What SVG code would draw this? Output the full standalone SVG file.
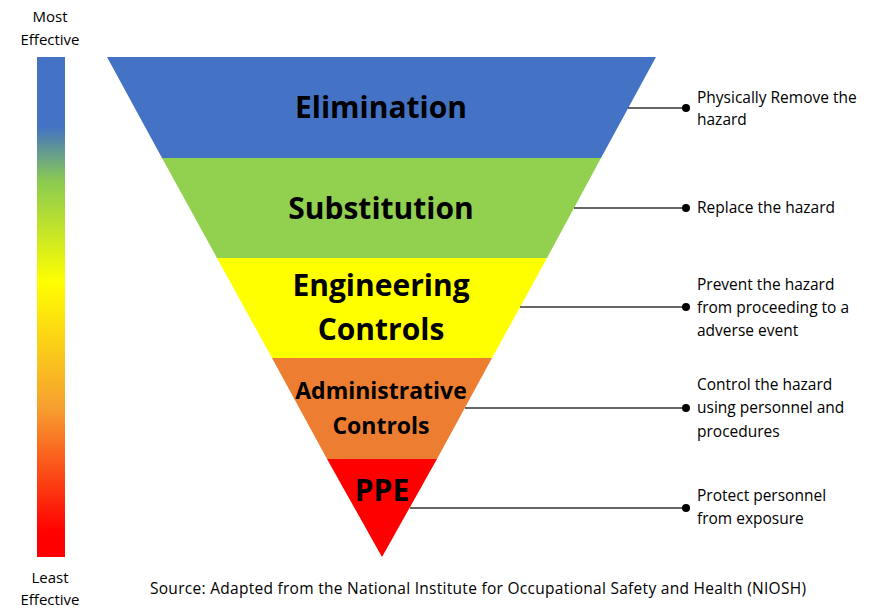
<svg xmlns="http://www.w3.org/2000/svg" width="882" height="608" viewBox="0 0 882 608">
<defs>
<linearGradient id="eff" x1="0" y1="0" x2="0" y2="1">
<stop offset="0" stop-color="#4472C4"/>
<stop offset="0.14" stop-color="#4472C4"/>
<stop offset="0.25" stop-color="#8CCB50"/>
<stop offset="0.45" stop-color="#FFFF00"/>
<stop offset="0.7" stop-color="#F7A030"/>
<stop offset="0.95" stop-color="#FF0000"/>
<stop offset="1" stop-color="#FF0000"/>
</linearGradient>
</defs>
<style>
.lvl{font-family:"Open Sans","Liberation Sans",sans-serif;font-weight:bold;fill:#000;text-anchor:middle}
.note{font-family:"Open Sans","Liberation Sans",sans-serif;font-size:15.5px;fill:#000}
.scale{font-family:"Open Sans","Liberation Sans",sans-serif;font-size:15px;fill:#000;text-anchor:middle}
.conn{stroke:#333;stroke-width:1.5;fill:none}
.dot{fill:#000}
</style>
<rect x="37" y="57" width="28" height="500" fill="url(#eff)"/>
<text class="scale" x="50" y="22">Most</text>
<text class="scale" x="50" y="45">Effective</text>
<text class="scale" x="50" y="583">Least</text>
<text class="scale" x="50" y="605">Effective</text>
<g id="elimination">
<polygon points="107,57 656,57 601,158 162,158" fill="#4472C4"/>
<text class="lvl" x="381" y="118" font-size="30">Elimination</text>
</g>
<g id="substitution">
<polygon points="162,158 601,158 547,258 217,258" fill="#92D050"/>
<text class="lvl" x="381" y="219" font-size="30">Substitution</text>
</g>
<g id="engineering">
<polygon points="217,258 547,258 492,358 272,358" fill="#FFFF00"/>
<text class="lvl" x="381" y="296" font-size="30">Engineering</text>
<text class="lvl" x="381" y="340" font-size="30">Controls</text>
</g>
<g id="administrative">
<polygon points="272,358 492,358 437,459 327,459" fill="#ED7D31"/>
<text class="lvl" x="381" y="399" font-size="23">Administrative</text>
<text class="lvl" x="381" y="434" font-size="23">Controls</text>
</g>
<g id="ppe">
<polygon points="327,459 437,459 382,557" fill="#FF0000"/>
<text class="lvl" x="382" y="501" font-size="30">PPE</text>
</g>
<g id="connectors">
<line class="conn" x1="628" y1="108" x2="686" y2="108"/>
<circle class="dot" cx="686" cy="108" r="4"/>
<line class="conn" x1="574" y1="208" x2="686" y2="208"/>
<circle class="dot" cx="686" cy="208" r="4"/>
<line class="conn" x1="520" y1="307" x2="686" y2="307"/>
<circle class="dot" cx="686" cy="307" r="4"/>
<line class="conn" x1="465" y1="408" x2="686" y2="408"/>
<circle class="dot" cx="686" cy="408" r="4"/>
<line class="conn" x1="410" y1="508" x2="686" y2="508"/>
<circle class="dot" cx="686" cy="508" r="4"/>
</g>
<g id="notes">
<text class="note" x="697" y="103">Physically Remove the</text>
<text class="note" x="697" y="125">hazard</text>
<text class="note" x="697" y="213">Replace the hazard</text>
<text class="note" x="697" y="290">Prevent the hazard</text>
<text class="note" x="697" y="313">from proceeding to a</text>
<text class="note" x="697" y="336">adverse event</text>
<text class="note" x="697" y="390">Control the hazard</text>
<text class="note" x="697" y="413">using personnel and</text>
<text class="note" x="697" y="437">procedures</text>
<text class="note" x="697" y="501">Protect personnel</text>
<text class="note" x="697" y="524">from exposure</text>
</g>
<text class="note" x="150" y="594" textLength="656" lengthAdjust="spacing">Source: Adapted from the National Institute for Occupational Safety and Health (NIOSH)</text>
</svg>
